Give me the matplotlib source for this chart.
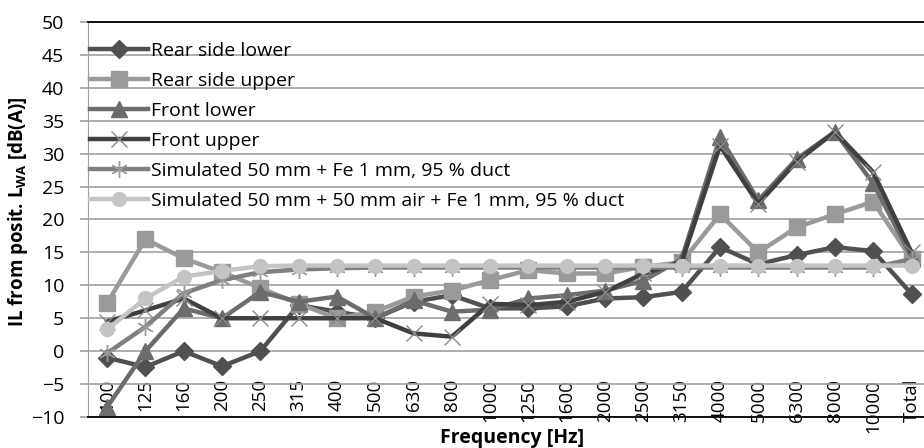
import matplotlib
matplotlib.use("Agg")
import matplotlib.pyplot as plt

plt.rcParams['font.family'] = ['Open Sans', 'DejaVu Sans']
plt.rcParams['mathtext.fontset'] = 'custom'
plt.rcParams['mathtext.bf'] = 'Open Sans:bold'
plt.rcParams['mathtext.rm'] = 'Open Sans'

freqs = ['100', '125', '160', '200', '250', '315', '400', '500', '630', '800', '1000',
         '1250', '1600', '2000', '2500', '3150', '4000', '5000', '6300', '8000', '10000', 'Total']

rear_lower = [-1, -2.4, 0, -2.3, 0, 7, 6, 5, 7.5, 8.5, 6.5,
              6.5, 6.8, 8, 8.2, 9, 15.8, 13.2, 14.6, 15.8, 15.2, 8.7]
rear_upper = [7.3, 17, 14.1, 12, 9.6, 7.2, 5, 6, 8.3, 9.2, 10.8,
              12.3, 11.8, 11.8, 12.8, 13.5, 20.8, 15, 18.8, 20.8, 22.7, 14]
front_lower = [-8.5, 0, 6.5, 5, 9, 7.5, 8.3, 5, 7.7, 6, 6.3,
               8, 8.5, 9.2, 10.7, 14, 32.5, 22.9, 29.2, 33.3, 25.5, 14.3]
front_upper = [4.5, 6.2, 8, 5, 5, 5, 5, 5, 2.7, 2.2, 7.2,
               7, 7.5, 9, 11.8, 13.5, 31.2, 22.4, 28.8, 33.3, 27.2, 15]
sim_fe = [-0.3, 3.7, 8.8, 10.8, 12, 12.4, 12.6, 12.7, 12.7, 12.7, 12.7,
          12.7, 12.7, 12.7, 12.7, 12.7, 12.7, 12.7, 12.7, 12.7, 12.7, 14]
sim_air = [3.3, 8, 11.3, 12.2, 12.9, 13, 13, 13, 13, 13, 13,
           13, 13, 13, 13, 13, 13, 13, 13, 13, 13, 13]

labels = ['Rear side lower', 'Rear side upper', 'Front lower', 'Front upper',
          'Simulated 50 mm + Fe 1 mm, 95 % duct',
          'Simulated 50 mm + 50 mm air + Fe 1 mm, 95 % duct']

fig = plt.figure(figsize=(9.24, 4.48), dpi=100)
# plot area runs past the right edge, as in the cropped original
ax = fig.add_axes([0.0952, 0.0692, 0.912, 0.8817])

x = range(len(freqs))
ax.plot(x, rear_lower, color='#505050', lw=3.2, marker='D', ms=9, mec='#505050', label=labels[0])
ax.plot(x, rear_upper, color='#9a9a9a', lw=3.2, marker='s', ms=11, mec='#9a9a9a', label=labels[1])
ax.plot(x, front_lower, color='#6c6c6c', lw=3.2, marker='^', ms=11, mec='#6c6c6c', label=labels[2])
ax.plot(x, front_upper, color='#404040', lw=3.2, marker='x', ms=12, mew=1, mec='#8a8a8a', label=labels[3])
ax.plot(x, sim_fe, color='#7f7f7f', lw=3.2, marker=(6, 2, 0), ms=12, mew=1, mec='#9a9a9a', label=labels[4])
ax.plot(x, sim_air, color='#c4c4c4', lw=3.2, marker='o', ms=10, mec='#c4c4c4', label=labels[5])

ax.set_xlim(-0.5, len(freqs) - 0.5)
ax.set_ylim(-10, 50)
ax.set_yticks(range(-10, 51, 5))
ax.grid(axis='y', color='#a0a0a0', lw=1.2)
ax.set_axisbelow(True)
ax.tick_params(axis='y', length=6, width=1.2, color='#a0a0a0', pad=11, labelsize=14)
ax.set_xticks([])
for s in ['top', 'bottom']:
    ax.spines[s].set_color('black')
    ax.spines[s].set_linewidth(1.3)
ax.spines['left'].set_color('#a0a0a0')
ax.spines['right'].set_visible(False)

sec = ax.secondary_xaxis(0.1)
sec.set_xticks(list(x))
sec.set_xticklabels(freqs, rotation=90, fontsize=13.5)
sec.tick_params(length=0, pad=1)
sec.spines['bottom'].set_visible(False)

ax.set_ylabel(r'IL from posit. $\mathbf{L_{WA}}$ [dB(A)]', fontsize=13.5, fontweight='bold')
ax.yaxis.set_label_coords(-0.069, 0.52)
fig.text(512 / 924, 0.012, 'Frequency [Hz]', ha='center', va='baseline', fontsize=14, fontweight='bold')

ax.legend(loc='upper left', bbox_to_anchor=(0.0, 0.955), frameon=False, fontsize=14,
          handlelength=3.0, handletextpad=0.12, labelspacing=0.62, borderaxespad=0, borderpad=0.1)

fig.savefig('out.png', dpi=100)
